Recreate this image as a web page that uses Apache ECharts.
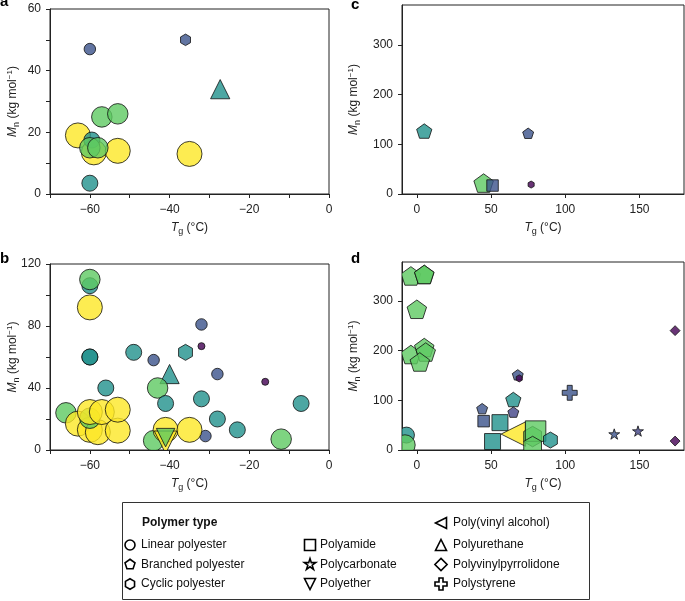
<!DOCTYPE html>
<html><head><meta charset="utf-8">
<script src="https://cdn.jsdelivr.net/npm/echarts@6/dist/echarts.min.js"></script>
<style>html,body{margin:0;padding:0;background:#fff}#c{width:685px;height:601px}</style>
</head><body><div id="c"></div>
<script>
// Each point: [Tg (°C), Mn (kg/mol), colour level (viridis fraction), polymer type]
const panelA = [
  [-60, 3.5, 0.5, 'linear'],
  [-60, 47, 0.25, 'linear'],
  [-36, 50, 0.25, 'cyclic'],
  [-27.3, 34, 0.5, 'pu'],
  [-63, 19, 1, 'linear'],
  [-59, 13.5, 1, 'linear'],
  [-53, 14, 1, 'linear'],
  [-35, 13, 1, 'linear'],
  [-59.5, 17.5, 0.5, 'linear'],
  [-57, 25, 0.75, 'linear'],
  [-53, 26, 0.75, 'linear'],
  [-60, 15, 0.75, 'linear'],
  [-58, 15, 0.75, 'linear']
];
const panelB = [
  [-60, 106, 0.5, 'linear'],
  [-60, 110, 0.75, 'linear'],
  [-60, 92, 1, 'linear'],
  [-60, 60, 0.5, 'linear'],
  [-60, 60, 0.5, 'linear'],
  [-49, 63, 0.5, 'linear'],
  [-44, 58, 0.25, 'linear'],
  [-36, 63, 0.5, 'cyclic'],
  [-32, 81, 0.25, 'linear'],
  [-32, 67, 0, 'linear'],
  [-40, 49, 0.5, 'pu'],
  [-28, 49, 0.25, 'linear'],
  [-16, 44, 0, 'linear'],
  [-56, 40, 0.5, 'linear'],
  [-43, 40, 0.75, 'linear'],
  [-41, 30, 0.5, 'linear'],
  [-32, 33, 0.5, 'linear'],
  [-7, 30, 0.5, 'linear'],
  [-28, 20, 0.5, 'linear'],
  [-23, 13, 0.5, 'linear'],
  [-31, 9, 0.25, 'linear'],
  [-12, 7, 0.75, 'linear'],
  [-66, 24, 0.75, 'linear'],
  [-63, 17, 1, 'linear'],
  [-60, 13, 1, 'linear'],
  [-58, 11.5, 1, 'linear'],
  [-53, 12.5, 1, 'linear'],
  [-60, 20.5, 0.75, 'linear'],
  [-60, 24.5, 1, 'linear'],
  [-57, 24.5, 1, 'linear'],
  [-53, 26, 1, 'linear'],
  [-44, 6, 0.75, 'linear'],
  [-41, 13, 1, 'linear'],
  [-35, 13, 1, 'linear'],
  [-41, 5, 1, 'ether'],
  [-41, 8, 0.75, 'ether']
];
const panelC = [
  [5, 125, 0.5, 'branched'],
  [75, 121, 0.25, 'branched'],
  [45, 20, 0.75, 'branched'],
  [51, 17, 0.25, 'amide'],
  [77, 19, 0, 'cyclic']
];
const panelD = [
  [-4, 348, 0.75, 'branched'],
  [5, 351, 0.75, 'branched'],
  [5, 351, 0.75, 'branched'],
  [0, 281, 0.75, 'branched'],
  [-4, 190, 0.75, 'branched'],
  [5, 204, 0.75, 'branched'],
  [6, 195, 0.75, 'branched'],
  [2, 175, 0.75, 'branched'],
  [-7, 30, 0.5, 'linear'],
  [-8, 10, 0.75, 'linear'],
  [45, 58, 0.25, 'amide'],
  [56, 55, 0.5, 'amide'],
  [51, 17, 0.5, 'amide'],
  [44, 82, 0.25, 'branched'],
  [65, 100, 0.5, 'branched'],
  [65, 75, 0.15, 'branched'],
  [68, 150, 0.25, 'branched'],
  [69, 144, 0, 'cyclic'],
  [65, 32, 1, 'pva'],
  [78, 27, 0.75, 'cyclic'],
  [80, 38, 0.75, 'amide'],
  [78, 7, 0.75, 'cyclic'],
  [90, 20, 0.5, 'cyclic'],
  [103, 115, 0.25, 'ps'],
  [133, 31, 0.25, 'carbonate'],
  [149, 37, 0.15, 'carbonate'],
  [174, 240, 0, 'pvp'],
  [174, 18, 0, 'pvp']
];

const xTicksAB = [-70, -60, -50, -40, -30, -20, -10, 0];
const xLabelsAB = [-60, -40, -20, 0];
const yTicksA = [0, 10, 20, 30, 40, 50, 60];
const yLabelsA = [0, 20, 40, 60];
const yTicksB = [0, 20, 40, 60, 80, 100, 120];
const yLabelsB = [0, 40, 80, 120];
const xTicksCD = [0, 50, 100, 150];
const yTicksCD = [0, 100, 200, 300];

const legendCol1 = [['linear', 'Linear polyester'], ['branched', 'Branched polyester'], ['cyclic', 'Cyclic polyester']];
const legendCol2 = [['amide', 'Polyamide'], ['carbonate', 'Polycarbonate'], ['ether', 'Polyether']];
const legendCol3 = [['pva', 'Poly(vinyl alcohol)'], ['pu', 'Polyurethane'], ['pvp', 'Polyvinylpyrrolidone'], ['ps', 'Polystyrene']];

// ---------- styling ----------
const FONT = "'Liberation Sans', Arial, Helvetica, sans-serif";
const COLOR = {0: '#440154', 0.15: '#414487', 0.25: '#3b528b', 0.5: '#21918c', 0.75: '#5ec962', 1: '#fde725'};
const SIZE = {0: 7, 0.15: 11.5, 0.25: 11.5, 0.5: 16, 0.75: 20.5, 1: 25};
const TYPE_SCALE = {pu: 1.2, ether: 0.9, pva: 0.98, ps: 1.3};

function regular(n, cx, cy, r, rot) {
  const pts = [];
  for (let k = 0; k < n; k++) {
    const a = rot + k * 2 * Math.PI / n;
    pts.push([cx + r * Math.cos(a), cy + r * Math.sin(a)]);
  }
  return pts;
}
function shapeOf(type, cx, cy, s) {
  const h = s / 2;
  switch (type) {
    case 'linear': return {type: 'circle', shape: {cx: cx, cy: cy, r: h}};
    case 'branched': return {type: 'polygon', shape: {points: regular(5, cx, cy, h, -Math.PI / 2)}};
    case 'cyclic': return {type: 'polygon', shape: {points: regular(6, cx, cy, h, -Math.PI / 2)}};
    case 'amide': return {type: 'polygon', shape: {points: [[cx - h, cy - h], [cx + h, cy - h], [cx + h, cy + h], [cx - h, cy + h]]}};
    case 'carbonate': {
      const pts = [];
      for (let k = 0; k < 10; k++) {
        const r = k % 2 === 0 ? h : h * 0.381966;
        const a = -Math.PI / 2 + k * Math.PI / 5;
        pts.push([cx + r * Math.cos(a), cy + r * Math.sin(a)]);
      }
      return {type: 'polygon', shape: {points: pts}};
    }
    case 'ether': return {type: 'polygon', shape: {points: [[cx - h, cy - h], [cx + h, cy - h], [cx, cy + h]]}};
    case 'pu': return {type: 'polygon', shape: {points: [[cx, cy - h], [cx + h, cy + h], [cx - h, cy + h]]}};
    case 'pva': return {type: 'polygon', shape: {points: [[cx - h, cy], [cx + h, cy - h], [cx + h, cy + h]]}};
    case 'pvp': {
      const d = s * 0.7071;
      return {type: 'polygon', shape: {points: [[cx, cy - d], [cx + d, cy], [cx, cy + d], [cx - d, cy]]}};
    }
    case 'ps': {
      const u = s / 6;
      const base = [[-1, -3], [1, -3], [1, -1], [3, -1], [3, 1], [1, 1], [1, 3], [-1, 3], [-1, 1], [-3, 1], [-3, -1], [-1, -1]];
      return {type: 'polygon', shape: {points: base.map(p => [cx + p[0] * u, cy + p[1] * u])}};
    }
  }
}

function makeRender(panel) {
  return function (params, api) {
    const p = panel[params.dataIndex];
    const c = api.coord([p[0], p[1]]);
    const s = SIZE[p[2]] * (TYPE_SCALE[p[3]] || 1);
    const g = shapeOf(p[3], c[0], c[1], s);
    g.style = {fill: COLOR[p[2]], stroke: '#111', lineWidth: 1, opacity: 0.8};
    return g;
  };
}

const fmt = v => (v < 0 ? '\u2212' + Math.abs(v) : String(v));
const axisCommon = {
  type: 'value',
  splitLine: {show: false},
  nameMoveOverlap: false,
  axisLine: {show: true, onZero: false, lineStyle: {color: '#222', width: 1}},
  nameTextStyle: {fontFamily: FONT, fontSize: 12, color: '#222'}
};
const xName = '{i|T}{s|g} (°C)';
const yName = '{i|M}{s|n} (kg mol{p|\u22121})';
const richX = {i: {fontStyle: 'italic', fontSize: 12, fontFamily: FONT, color: '#222'}, s: {fontSize: 9, fontFamily: FONT, color: '#222', padding: [7, 0, 0, 0]}};
const richY = {i: {fontStyle: 'italic', fontSize: 12, fontFamily: FONT, color: '#222'}, s: {fontSize: 9, fontFamily: FONT, color: '#222', padding: [7, 0, 0, 0]}, p: {fontSize: 8, fontFamily: FONT, color: '#222', padding: [0, 0, 7, 0]}};

function xAxis(i, min, max, ticks, labels) {
  return Object.assign({}, axisCommon, {
    gridIndex: i, min: min, max: max,
    name: xName, nameLocation: 'middle', nameGap: 26,
    nameTextStyle: {fontFamily: FONT, fontSize: 12, color: '#222', rich: richX},
    axisTick: {show: true, length: 4, customValues: ticks, lineStyle: {color: '#222'}},
    axisLabel: {customValues: labels, formatter: fmt, color: '#222', fontSize: 12, fontFamily: FONT, margin: 10}
  });
}
function yAxis(i, min, max, ticks, labels, gap) {
  return Object.assign({}, axisCommon, {
    gridIndex: i, min: min, max: max,
    name: yName, nameLocation: 'middle', nameGap: gap,
    nameTextStyle: {fontFamily: FONT, fontSize: 12, color: '#222', rich: richY},
    axisTick: {show: true, length: 4, customValues: ticks, lineStyle: {color: '#222'}},
    axisLabel: {customValues: labels, formatter: fmt, color: '#222', fontSize: 12, fontFamily: FONT, margin: 9}
  });
}

const gridBase = {show: true, borderColor: '#222', borderWidth: 1, containLabel: false};
const grids = [
  Object.assign({left: 50, top: 9, width: 279, height: 185}, gridBase),
  Object.assign({left: 50, top: 264, width: 279, height: 186}, gridBase),
  Object.assign({left: 402, top: 5, width: 282, height: 189}, gridBase),
  Object.assign({left: 402, top: 262, width: 282, height: 188}, gridBase)
];
const panels = [panelA, panelB, panelC, panelD];

// ---------- legend (graphic) ----------
const graphics = [];
graphics.push({type: 'rect', shape: {x: 122.5, y: 502.5, width: 467, height: 97}, style: {fill: 'none', stroke: '#333', lineWidth: 1}});
graphics.push({type: 'text', x: 142, y: 523, style: {text: 'Polymer type', fontFamily: FONT, fontSize: 12, fontWeight: 'bold', fill: '#111', verticalAlign: 'middle', align: 'left'}});
const LEG_SIZE = {linear: 10, branched: 10.5, cyclic: 10.5, amide: 11, carbonate: 12, ether: 11, pu: 11, pva: 11, pvp: 12, ps: 12};
function addLegendCol(items, iconX, textX, rows) {
  items.forEach((it, k) => {
    const y = rows[k];
    const sz = it[0] === 'pvp' ? LEG_SIZE.pvp * 0.72 : LEG_SIZE[it[0]];
    const g = shapeOf(it[0], iconX, y, sz);
    g.style = {fill: 'none', stroke: '#000', lineWidth: 1.6};
    graphics.push(g);
    graphics.push({type: 'text', x: textX, y: y, style: {text: it[1], fontFamily: FONT, fontSize: 12, fill: '#111', verticalAlign: 'middle', align: 'left'}});
  });
}
addLegendCol(legendCol1, 130, 141, [545, 564.5, 584]);
addLegendCol(legendCol2, 310, 320, [545, 564.5, 584]);
addLegendCol(legendCol3, 441, 453, [523, 545, 564.5, 584]);

// panel letters
[['a', 0, 1.5], ['b', 0, 259], ['c', 351, 5], ['d', 351, 259]].forEach(l => {
  graphics.push({type: 'text', x: l[1], y: l[2], style: {text: l[0], fontFamily: FONT, fontSize: 15, fontWeight: 'bold', fill: '#000', verticalAlign: 'middle', align: 'left'}});
});

const option = {
  animation: false,
  backgroundColor: '#fff',
  grid: grids,
  xAxis: [
    xAxis(0, -70, 0, xTicksAB, xLabelsAB),
    xAxis(1, -70, 0, xTicksAB, xLabelsAB),
    xAxis(2, -10, 180, xTicksCD, xTicksCD),
    xAxis(3, -10, 180, xTicksCD, xTicksCD)
  ],
  yAxis: [
    yAxis(0, 0, 60, yTicksA, yLabelsA, 29),
    yAxis(1, 0, 120, yTicksB, yLabelsB, 29),
    yAxis(2, 0, 380, yTicksCD, yTicksCD, 40),
    yAxis(3, 0, 378, yTicksCD, yTicksCD, 40)
  ],
  series: panels.map((p, i) => ({
    type: 'custom', xAxisIndex: i, yAxisIndex: i, clip: true, silent: true,
    data: p.map(d => [d[0], d[1]]),
    encode: {x: 0, y: 1},
    renderItem: makeRender(p)
  })),
  graphic: graphics
};

const chart = echarts.init(document.getElementById('c'), null, {renderer: 'canvas'});
chart.setOption(option);
</script>
</body></html>
